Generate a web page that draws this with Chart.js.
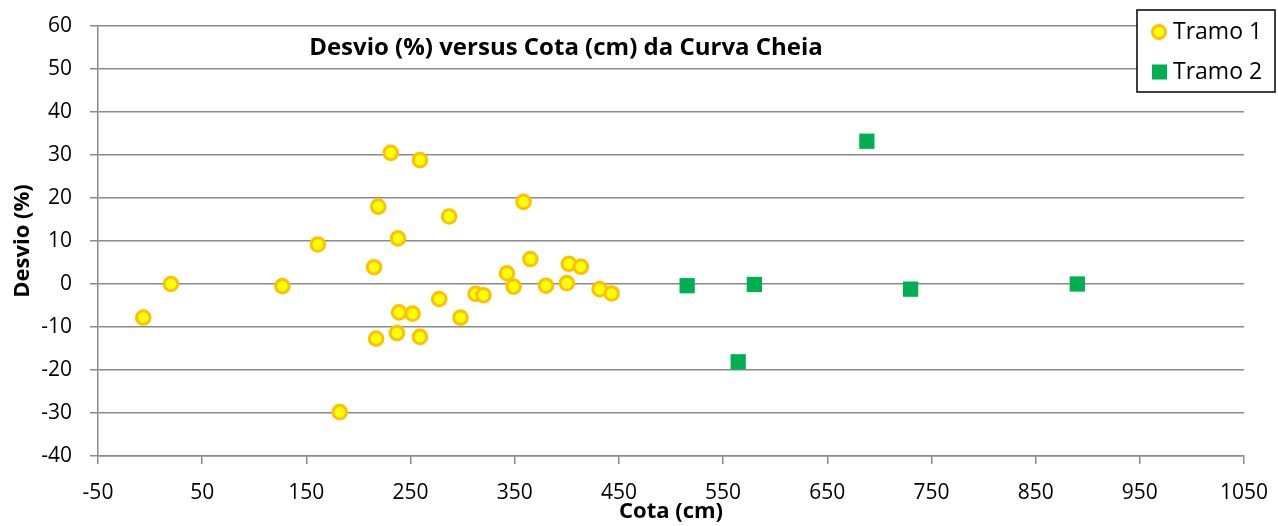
<!DOCTYPE html>
<html>
<head>
<meta charset="utf-8">
<script src="https://cdn.jsdelivr.net/npm/chart.js@4/dist/chart.umd.min.js"></script>
<style>
html,body{margin:0;padding:0;background:#fff;}
#wrap{width:1278px;height:526px;position:relative;}
</style>
</head>
<body>
<div id="wrap"><canvas id="c"></canvas></div>
<script>
// ---- data ----
const chartTitle = 'Desvio (%) versus Cota (cm) da Curva Cheia';
const xTitle = 'Cota (cm)';
const yTitle = 'Desvio (%)';
const seriesNames = ['Tramo 1', 'Tramo 2'];
const xTickValues = [-50, 50, 150, 250, 350, 450, 550, 650, 750, 850, 950, 1050];
const yTickValues = [-40, -30, -20, -10, 0, 10, 20, 30, 40, 50, 60];

const tramo1Cota = [231, 259, 219, 287, 238, 161, 215, 20, 127, -6.5, 277.5, 312.5, 320, 239, 252, 298, 217, 237, 259, 182,
                    342.5, 349, 365, 380, 400, 402, 413.5, 431.5, 443, 358.5];
const tramo1Desvio = [30.5, 28.8, 18.0, 15.7, 10.6, 9.2, 3.9, 0.0, -0.5, -7.8, -3.5, -2.3, -2.6, -6.6, -6.9, -7.8, -12.7, -11.4, -12.3, -29.8,
                      2.5, -0.6, 5.8, -0.4, 0.2, 4.7, 4.0, -1.2, -2.2, 19.1];
const tramo2Cota = [688, 515.5, 580, 730, 564.5, 890];
const tramo2Desvio = [33.2, -0.4, -0.1, -1.2, -18.1, 0.0];

// ---- build ----
const pts = (xs, ys) => xs.map((x, i) => ({x: x, y: ys[i]}));
const GRID = '#8a8a8a';
Chart.defaults.font.family = "'Open Sans', 'Liberation Sans', sans-serif";
Chart.defaults.color = '#000';

const overlay = {
  id: 'overlay',
  afterDraw(chart) {
    const ctx = chart.ctx;
    ctx.save();
    // title
    ctx.fillStyle = '#000';
    ctx.font = "bold 24px 'Open Sans', sans-serif";
    ctx.textAlign = 'center';
    ctx.textBaseline = 'middle';
    ctx.fillText(chartTitle, 566, 48);
    // legend box
    ctx.fillStyle = '#fff';
    ctx.fillRect(1137, 10, 138, 82);
    ctx.strokeStyle = '#000';
    ctx.lineWidth = 1.5;
    ctx.strokeRect(1137, 10, 138, 82);
    const ds = chart.data.datasets;
    // entry 1: circle
    ctx.beginPath();
    ctx.arc(1159, 32, 6.5, 0, Math.PI * 2);
    ctx.fillStyle = ds[0].backgroundColor;
    ctx.fill();
    ctx.lineWidth = 3;
    ctx.strokeStyle = ds[0].borderColor;
    ctx.stroke();
    // entry 2: square
    ctx.fillStyle = ds[1].backgroundColor;
    ctx.fillRect(1152, 64.5, 15, 15);
    ctx.fillStyle = '#000';
    ctx.font = "23px 'Open Sans', sans-serif";
    ctx.textAlign = 'left';
    ctx.fillText(ds[0].label, 1173, 32);
    ctx.fillText(ds[1].label, 1173, 72);
    ctx.restore();
  }
};

new Chart(document.getElementById('c'), {
  type: 'scatter',
  data: {
    datasets: [
      {
        label: seriesNames[0],
        data: pts(tramo1Cota, tramo1Desvio),
        pointStyle: 'circle',
        pointRadius: 6.8,
        pointHoverRadius: 6.8,
        backgroundColor: '#FFFF00',
        borderColor: '#FFC000',
        borderWidth: 3
      },
      {
        label: seriesNames[1],
        data: pts(tramo2Cota, tramo2Desvio),
        pointStyle: 'rect',
        pointRadius: 10.8,
        pointHoverRadius: 10.8,
        backgroundColor: '#00B050',
        borderColor: '#00B050',
        borderWidth: 0
      }
    ]
  },
  options: {
    responsive: true,
    maintainAspectRatio: false,
    animation: false,
    events: [],
    layout: {padding: {left: 0, right: 34, top: 26, bottom: 0}},
    plugins: {legend: {display: false}, tooltip: {enabled: false}, title: {display: false}},
    scales: {
      x: {
        type: 'linear',
        min: -50, max: 1050,
        afterBuildTicks(scale) { scale.ticks = xTickValues.map(v => ({value: v})); },
        afterFit(scale) { scale.height = 70; scale.paddingLeft = 0; scale.paddingRight = 0; },
        grid: {drawOnChartArea: false, drawTicks: true, tickLength: 8, color: GRID, lineWidth: 1.5},
        border: {display: true, color: GRID, width: 1.5},
        ticks: {font: {size: 21}, padding: 16, maxRotation: 0, autoSkip: false, color: '#000',
                callback: v => String(v)},
        title: {display: true, text: xTitle, font: {size: 22, weight: 'bold'}, padding: {top: 0, bottom: 1}, color: '#000'}
      },
      y: {
        type: 'linear',
        min: -40, max: 60,
        afterBuildTicks(scale) { scale.ticks = yTickValues.map(v => ({value: v})); },
        afterFit(scale) { scale.width = 98; scale.paddingTop = 0; scale.paddingBottom = 0; },
        grid: {drawTicks: true, tickLength: 8, color: GRID, lineWidth: 1.5},
        border: {display: true, color: GRID, width: 1.5},
        ticks: {font: {size: 21}, padding: 18, color: '#000', callback: v => String(v)},
        title: {display: true, text: yTitle, font: {size: 22, weight: 'bold'}, padding: {top: 10, bottom: 0}, color: '#000'}
      }
    }
  },
  plugins: [overlay]
});
</script>
</body>
</html>
